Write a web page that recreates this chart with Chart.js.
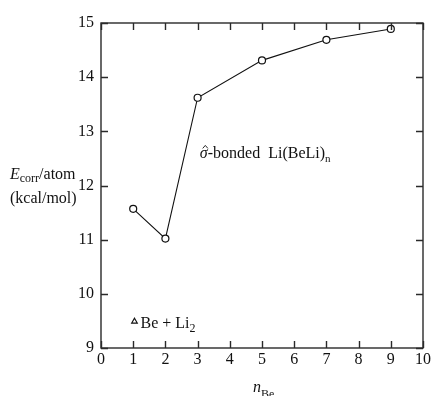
<!DOCTYPE html>
<html>
<head>
<meta charset="utf-8">
<script src="https://cdn.jsdelivr.net/npm/chart.js@4.4.1/dist/chart.umd.min.js"></script>
<style>
  html, body { margin: 0; padding: 0; background: #ffffff; }
  #wrap { width: 434px; height: 396px; }
</style>
</head>
<body>
<div id="wrap"><canvas id="chart" width="434" height="396"></canvas></div>
<script>
// values
const nBe = [1, 2, 3, 5, 7, 9];
const ecorr = [11.57, 11.02, 13.62, 14.31, 14.69, 14.89];
const beLiX = [1.04];
const beLiY = [9.49];
const xTicks = [0, 1, 2, 3, 4, 5, 6, 7, 8, 9, 10];
const yTicks = [9, 10, 11, 12, 13, 14, 15];

const SERIF = '"Liberation Serif", "DejaVu Serif", serif';

// draw a run of text pieces, some as subscripts
function drawRun(ctx, x, y, parts) {
  let cx = x;
  parts.forEach(p => {
    ctx.font = p.font;
    ctx.fillText(p.t, cx, y + (p.dy || 0));
    const w = ctx.measureText(p.t).width;
    if (p.hat) {
      // small circumflex over the letter
      const hx = cx + w / 2 + 1.5;
      ctx.save();
      ctx.strokeStyle = '#111';
      ctx.lineWidth = 0.9;
      ctx.beginPath();
      ctx.moveTo(hx - 2.6, y - 10);
      ctx.lineTo(hx, y - 13);
      ctx.lineTo(hx + 2.6, y - 10);
      ctx.stroke();
      ctx.restore();
    }
    cx += w + (p.gap || 0);
  });
}

const framePlugin = {
  id: 'frame',
  afterDatasetsDraw(chart) {
    const ctx = chart.ctx;
    const a = chart.chartArea;
    const xs = chart.scales.x;
    const ys = chart.scales.y;
    const len = 7;
    ctx.save();
    ctx.strokeStyle = '#2a2a2a';
    ctx.lineWidth = 1.4;
    ctx.strokeRect(a.left, a.top, a.right - a.left, a.bottom - a.top);
    ctx.beginPath();
    xTicks.forEach(v => {
      const px = Math.round(xs.getPixelForValue(v)) + 0.5;
      ctx.moveTo(px, a.bottom); ctx.lineTo(px, a.bottom - len);
      ctx.moveTo(px, a.top); ctx.lineTo(px, a.top + len);
    });
    yTicks.forEach(v => {
      const py = Math.round(ys.getPixelForValue(v)) + 0.5;
      ctx.moveTo(a.left, py); ctx.lineTo(a.left + len, py);
      ctx.moveTo(a.right, py); ctx.lineTo(a.right - len, py);
    });
    ctx.stroke();

    ctx.fillStyle = '#111';
    ctx.textBaseline = 'alphabetic';
    ctx.textAlign = 'left';
    // y axis title
    drawRun(ctx, 10, 179, [
      { t: 'E', font: 'italic 16px ' + SERIF },
      { t: 'corr', font: '12px ' + SERIF, dy: 3 },
      { t: '/atom', font: '16px ' + SERIF }
    ]);
    drawRun(ctx, 10, 203, [{ t: '(kcal/mol)', font: '16px ' + SERIF }]);
    // x axis title
    drawRun(ctx, 253, 392, [
      { t: 'n', font: 'italic 16px ' + SERIF },
      { t: 'Be', font: '12px ' + SERIF, dy: 6 }
    ]);
    // series label
    const lx = xs.getPixelForValue(3.07);
    const ly = ys.getPixelForValue(12.5);
    drawRun(ctx, lx, ly, [
      { t: 'σ', font: 'italic 16px ' + SERIF, hat: true },
      { t: '-bonded  Li(BeLi)', font: '16px ' + SERIF },
      { t: 'n', font: '11px ' + SERIF, dy: 4 }
    ]);
    // triangle label
    const tx = xs.getPixelForValue(beLiX[0]) + 6;
    const ty = ys.getPixelForValue(beLiY[0]) + 7;
    drawRun(ctx, tx, ty, [
      { t: 'Be + Li', font: '16px ' + SERIF },
      { t: '2', font: '12px ' + SERIF, dy: 4 }
    ]);
    ctx.restore();
  }
};

new Chart(document.getElementById('chart'), {
  type: 'scatter',
  data: {
    datasets: [
      {
        data: nBe.map((x, i) => ({ x: x, y: ecorr[i] })),
        showLine: true,
        borderColor: '#111',
        borderWidth: 1.1,
        pointStyle: 'circle',
        pointRadius: 3.5,
        pointBorderWidth: 1.2,
        pointBorderColor: '#111',
        pointBackgroundColor: '#fff',
        tension: 0
      },
      {
        data: nBe.map((x, i) => ({ x: x, y: ecorr[i] })),
        showLine: false,
        pointRadius: 0.8,
        pointBorderWidth: 0,
        pointBackgroundColor: '#111'
      },
      {
        data: beLiX.map((x, i) => ({ x: x, y: beLiY[i] })),
        showLine: false,
        pointStyle: 'triangle',
        pointRadius: 3.2,
        pointBorderWidth: 1.2,
        pointBorderColor: '#111',
        pointBackgroundColor: '#fff'
      }
    ]
  },
  options: {
    responsive: false,
    animation: false,
    layout: { padding: { top: 23, right: 11, left: 0, bottom: 0 } },
    plugins: {
      legend: { display: false },
      tooltip: { enabled: false }
    },
    scales: {
      x: {
        type: 'linear',
        min: 0,
        max: 10,
        afterBuildTicks: (s) => { s.ticks = xTicks.map(v => ({ value: v })); },
        afterFit: (s) => { s.height = 48; },
        grid: { display: false, drawTicks: false },
        border: { display: false },
        ticks: { color: '#111', padding: 2, font: { family: SERIF, size: 16 } }
      },
      y: {
        type: 'linear',
        min: 9,
        max: 15,
        afterBuildTicks: (s) => { s.ticks = yTicks.map(v => ({ value: v })); },
        afterFit: (s) => { s.width = 101; },
        grid: { display: false, drawTicks: false },
        border: { display: false },
        ticks: { color: '#111', padding: 7, font: { family: SERIF, size: 16 } }
      }
    }
  },
  plugins: [framePlugin]
});
</script>
</body>
</html>
